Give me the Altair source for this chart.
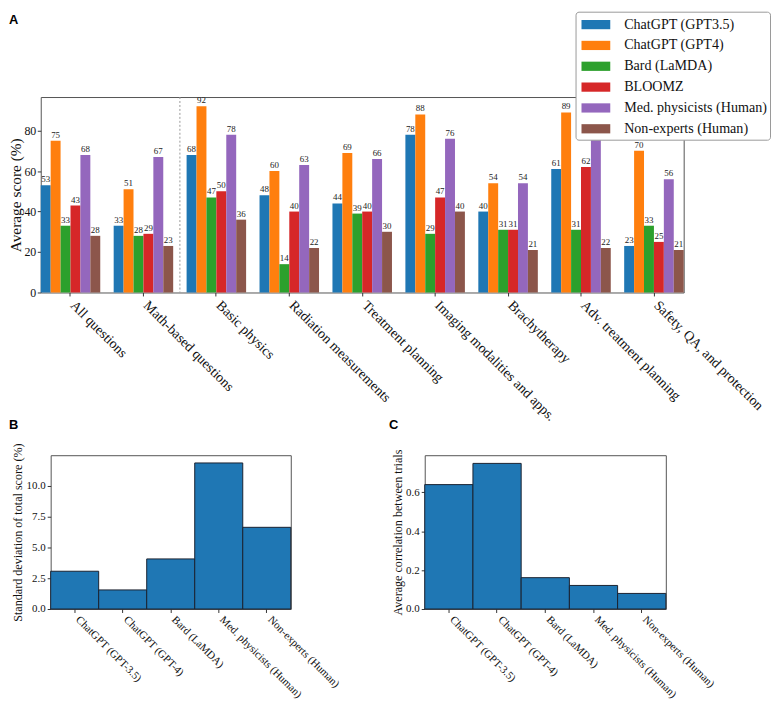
import altair as alt
import pandas as pd

# ---------------- data ----------------
categories = ["All questions", "Math-based questions", "Basic physics",
              "Radiation measurements", "Treatment planning",
              "Imaging modalities and apps.", "Brachytherapy",
              "Adv. treatment planning", "Safety, QA, and protection"]
series = ["ChatGPT (GPT3.5)", "ChatGPT (GPT4)", "Bard (LaMDA)", "BLOOMZ",
          "Med. physicists (Human)", "Non-experts (Human)"]
gpt35 = [53, 33, 68, 48, 44, 78, 40, 61, 23]
gpt4 = [75, 51, 92, 60, 69, 88, 54, 89, 70]
bard = [33, 28, 47, 14, 39, 29, 31, 31, 33]
bloomz = [43, 29, 50, 40, 40, 47, 31, 62, 25]
medphys = [68, 67, 78, 63, 66, 76, 54, 76, 56]
nonexp = [28, 23, 36, 22, 30, 40, 21, 22, 21]
colors = ["#1f77b4", "#ff7f0e", "#2ca02c", "#d62728", "#9467bd", "#8c564b"]

models = ["ChatGPT (GPT-3.5)", "ChatGPT (GPT-4)", "Bard (LaMDA)",
          "Med. physicists (Human)", "Non-experts (Human)"]
std_dev = [3.07, 1.55, 4.07, 11.87, 6.64]
avg_corr = [0.639, 0.748, 0.161, 0.121, 0.080]

SERIF = "Liberation Serif"
SANS = "Liberation Sans"


def letter(txt, x, y):
    return alt.Chart(pd.DataFrame({"k": [0]})).mark_text(
        text=txt, font=SANS, fontWeight="bold", fontSize=13, align="left",
        baseline="top", color="black").encode(x=alt.value(x), y=alt.value(y))


# ---------------- panel A ----------------
rows = []
for s, vals in zip(series, [gpt35, gpt4, bard, bloomz, medphys, nonexp]):
    for c, v in zip(categories, vals):
        rows.append({"category": c, "series": s, "value": v})
dfA = pd.DataFrame(rows)

xscaleA = alt.Scale(domain=categories, paddingInner=0.184, paddingOuter=0)
xA = alt.X("category:N", sort=categories, scale=xscaleA,
           axis=alt.Axis(title=None, labelAngle=45, labelAlign="left",
                         labelBaseline="top", labelFontSize=14, labelPadding=2,
                         labelOffset=7, labelLimit=400))
xoff = alt.XOffset("series:N", sort=series,
                   scale=alt.Scale(domain=series, paddingInner=0, paddingOuter=0))
yA = alt.Y("value:Q", scale=alt.Scale(domain=[0, 96.6], nice=False),
           axis=alt.Axis(values=[0, 20, 40, 60, 80], title="Average score (%)",
                         titleFontSize=15.5, titleFontWeight="normal",
                         labelFontSize=12, labelPadding=1.5, titlePadding=0))

bars = alt.Chart(dfA).mark_bar().encode(
    x=xA, xOffset=xoff, y=yA,
    color=alt.Color("series:N", sort=series,
                    scale=alt.Scale(domain=series, range=colors),
                    legend=alt.Legend(title=None, orient="none",
                                      legendX=539, legendY=-86)),
)
labels = alt.Chart(dfA).mark_text(baseline="bottom", dy=-1, fontSize=9,
                                  color="#222", font=SERIF).encode(
    x=alt.X("category:N", sort=categories, scale=xscaleA),
    xOffset=xoff, y=alt.Y("value:Q"), text=alt.Text("value:Q"))
# dotted separator in the gap before "Basic physics"
sep = alt.Chart(pd.DataFrame({"category": ["Basic physics"]})).mark_rule(
    color="#999", strokeDash=[2, 2], strokeWidth=1).encode(
    x=alt.X("category:N", scale=xscaleA),
    xOffset=alt.value(-6.75))

panelA = alt.layer(
    bars, labels, sep,
    letter("A", -32, -84), letter("B", -32, 325), letter("C", 351, 325)
).properties(width=648, height=197)

# ---------------- panels B, C ----------------
dfB = pd.DataFrame({"model": models, "std": std_dev, "corr": avg_corr})
xB = alt.X("model:N", sort=models,
           scale=alt.Scale(domain=models, paddingInner=0, paddingOuter=0),
           axis=alt.Axis(title=None, labelAngle=45, labelAlign="left",
                         labelBaseline="top", labelFontSize=11, labelPadding=1,
                         labelOffset=7, labelLimit=400))

panelB = alt.Chart(dfB).mark_bar(color="#1f77b4", stroke="#1a2230", strokeWidth=1).encode(
    x=xB,
    y=alt.Y("std:Q", scale=alt.Scale(domain=[0, 12.5], nice=False),
            axis=alt.Axis(values=[0, 2.5, 5, 7.5, 10], format=".1f",
                          title="Standard deviation of total score (%)",
                          titleFontSize=12.2, titleFontWeight="normal",
                          labelFontSize=11, labelPadding=2, titlePadding=2))
).properties(width=242, height=155)

panelC = alt.Chart(dfB).mark_bar(color="#1f77b4", stroke="#1a2230", strokeWidth=1).encode(
    x=xB,
    y=alt.Y("corr:Q", scale=alt.Scale(domain=[0, 0.79], nice=False),
            axis=alt.Axis(values=[0, 0.2, 0.4, 0.6], format=".1f",
                          title="Average correlation between trials",
                          titleFontSize=12.2, titleFontWeight="normal",
                          labelFontSize=11, labelPadding=2, titlePadding=1))
).properties(width=243, height=155)

# invisible spacer that lets panel B sit a little to the right of panel A
spacer = alt.Chart(pd.DataFrame({"k": [0]})).mark_point(size=1, opacity=0).encode(
    x=alt.value(0), y=alt.value(0)).properties(
    width=1, height=155, view=alt.ViewBackground(strokeOpacity=0, strokeWidth=0))

left_part = alt.hconcat(spacer, panelB, spacing=-32)
bottom = alt.hconcat(left_part, panelC, spacing=49)

chart = alt.vconcat(panelA, bottom, spacing=9).properties(
    padding=0
).configure(
    font=SERIF
).configure_view(
    stroke="#555", strokeWidth=1
).configure_axis(
    domain=False, grid=False, tickColor="#333", tickSize=3.5,
    labelColor="#111", titleColor="#111", labelFont=SERIF, titleFont=SERIF
).configure_legend(
    labelFont=SERIF, labelFontSize=14.2, labelColor="#111",
    symbolType="M-0.7,-0.465H2.2V0.465H-0.7Z", symbolSize=400, symbolStrokeWidth=0,
    strokeColor="#999", fillColor="white", cornerRadius=3, padding=3,
    rowPadding=3, labelOffset=26, labelLimit=300
)

chart.save("out.html", embed_options={"renderer": "svg", "actions": False})
